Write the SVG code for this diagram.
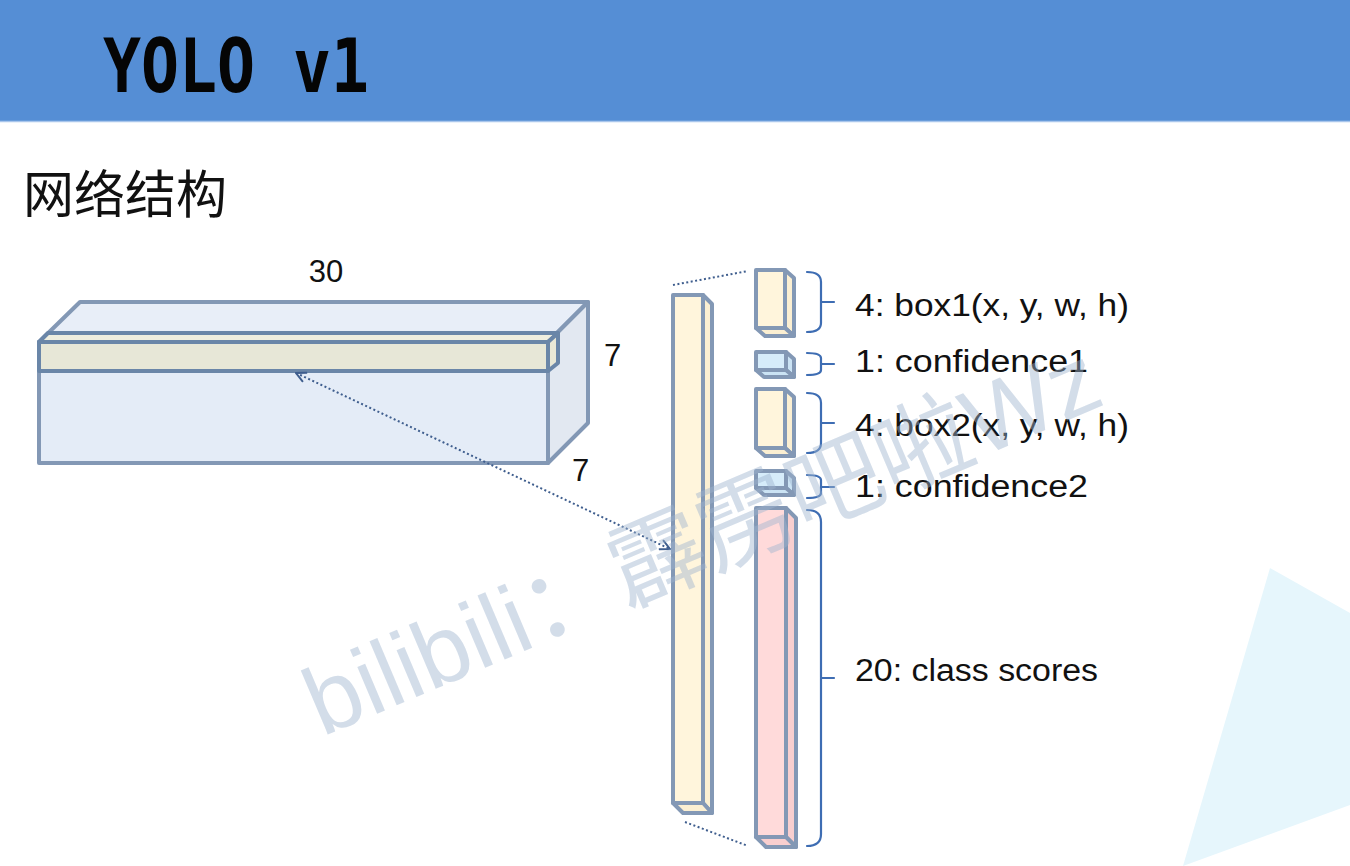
<svg xmlns="http://www.w3.org/2000/svg" width="1350" height="866" viewBox="0 0 1350 866">
<defs>
<style>
.edge{stroke:#8398B5;stroke-width:4;stroke-linejoin:round}
.strip{stroke:#6A86A8;stroke-width:4;stroke-linejoin:round}
.cream{fill:#FFF5DC}
.cream2{fill:#FBEFD2}
.blue{fill:#D6ECFA}
.blue2{fill:#CBE3F4}
.pink{fill:#FFDADA}
.pink2{fill:#F9CFCF}
.lbl{font-family:"Liberation Sans","Noto Sans",Arial,sans-serif;font-size:31px;fill:#111}
.brace{fill:none;stroke:#3E6DB3;stroke-width:2.2;stroke-linecap:round}
.dots{fill:none;stroke:#3F5E8E;stroke-width:2;stroke-dasharray:2 2.5}
</style>
<marker id="vhead" viewBox="0 0 12 12" refX="11" refY="6" markerWidth="12" markerHeight="12" markerUnits="userSpaceOnUse" orient="auto-start-reverse">
<path d="M1,1 L11,6 L1,11" fill="none" stroke="#3F5E8E" stroke-width="2"/>
</marker>
</defs>
<rect width="1350" height="866" fill="#FFFFFF"/>
<polygon points="1270,568 1350,613 1350,805 1183,866" fill="#E6F6FC"/>
<rect x="0" y="0" width="1350" height="121" fill="#558ED5"/>
<line x1="0" y1="121.5" x2="1350" y2="121.5" stroke="#A9C6EC" stroke-width="1.5"/>
<text x="103" y="92" font-family="'DejaVu Sans Mono','Liberation Mono',monospace" font-weight="bold" font-size="75" textLength="266" lengthAdjust="spacingAndGlyphs" fill="#050505">YOLO v1</text>
<text x="23" y="213" font-family="'Noto Sans CJK SC','Noto Sans',sans-serif" font-size="51" fill="#111">网络结构</text>

<g id="feature-map">
<polygon class="edge" points="39,342 80,302 588,302 548,342" fill="#E8EEF8"/>
<polygon class="edge" points="548,342 588,302 588,423 548,463" fill="#E2E8F1"/>
<rect class="edge" x="39" y="342" width="509" height="121" fill="#E4ECF7"/>
<polygon class="strip" points="39,342 48,333 558,333 548,342" fill="#EFEEDF"/>
<polygon class="strip" points="548,342 558,333 558,363 548,371" fill="#E9E8D6"/>
<rect class="strip" x="39" y="342" width="509" height="29" fill="#E7E7D7"/>
<text class="lbl" x="326" y="282" text-anchor="middle">30</text>
<text class="lbl" x="604" y="366">7</text>
<text class="lbl" x="572" y="481">7</text>
</g>

<g id="cell-vector">
<polygon class="edge cream2" points="703,295 712,304 712,813 703,803"/>
<polygon class="edge cream2" points="673,803 703,803 712,813 683,813"/>
<rect class="edge cream" x="673" y="295" width="30" height="508"/>
</g>

<g id="box1">
<polygon class="edge cream2" points="785,270 794,278 794,336 785,328"/>
<polygon class="edge cream2" points="756,328 785,328 794,336 765,336"/>
<rect class="edge cream" x="756" y="270" width="29" height="58"/>
</g>
<g id="confidence1">
<polygon class="edge blue2" points="786,352 794,359 794,377 786,370"/>
<polygon class="edge blue2" points="756,370 786,370 794,377 764,377"/>
<rect class="edge blue" x="756" y="352" width="30" height="18"/>
</g>
<g id="box2">
<polygon class="edge cream2" points="785,389 794,397 794,456 785,448"/>
<polygon class="edge cream2" points="756,448 785,448 794,456 765,456"/>
<rect class="edge cream" x="756" y="389" width="29" height="59"/>
</g>
<g id="confidence2">
<polygon class="edge blue2" points="786,471 794,478 794,495 786,488"/>
<polygon class="edge blue2" points="756,488 786,488 794,495 764,495"/>
<rect class="edge blue" x="756" y="471" width="30" height="17"/>
</g>
<g id="class-scores">
<polygon class="edge pink2" points="786,508 796,518 796,847 786,837"/>
<polygon class="edge pink2" points="756,837 786,837 796,847 766,847"/>
<rect class="edge pink" x="756" y="508" width="30" height="329"/>
</g>

<g id="labels">
<path class="brace" d="M807,272 Q821,272 821,282 V323 Q821,332 807,332 M821,302 H834"/>
<text class="lbl" x="855" y="316" textLength="274" lengthAdjust="spacingAndGlyphs">4: box1(x, y, w, h)</text>
<path class="brace" d="M807,353 Q821,353 821,358 V370 Q821,375 807,375 M821,364 H834"/>
<text class="lbl" x="855" y="372" textLength="233" lengthAdjust="spacingAndGlyphs">1: confidence1</text>
<path class="brace" d="M807,393 Q821,393 821,403 V443 Q821,453 807,453 M821,423 H834"/>
<text class="lbl" x="855" y="436" textLength="274" lengthAdjust="spacingAndGlyphs">4: box2(x, y, w, h)</text>
<path class="brace" d="M807,475 Q821,475 821,480 V493 Q821,498 807,498 M821,487 H834"/>
<text class="lbl" x="855" y="497" textLength="233" lengthAdjust="spacingAndGlyphs">1: confidence2</text>
<path class="brace" d="M807,510 Q821,510 821,522 V834 Q821,846 807,846 M821,678 H834"/>
<text class="lbl" x="855" y="681" textLength="243" lengthAdjust="spacingAndGlyphs">20: class scores</text>
</g>

<g id="connectors">
<line class="dots" x1="673" y1="285" x2="748" y2="271"/>
<line class="dots" x1="685" y1="822" x2="748" y2="846"/>
<line class="dots" x1="296" y1="373" x2="670" y2="549" marker-start="url(#vhead)" marker-end="url(#vhead)"/>
</g>

<text x="322" y="737" transform="rotate(-23 322 737)" font-family="'Liberation Sans','Noto Sans CJK SC',sans-serif" font-size="96" fill="#9DB3CF" fill-opacity="0.45">bilibili：霹雳吧啦Wz</text>
</svg>
